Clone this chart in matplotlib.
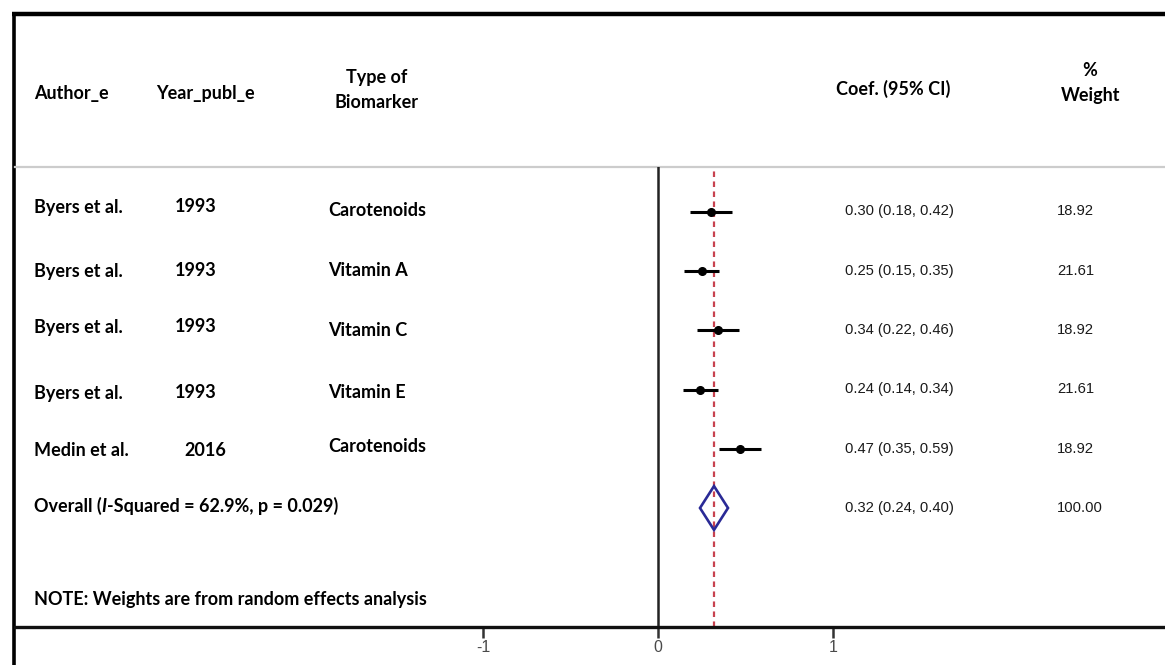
import matplotlib
matplotlib.use("Agg")
import matplotlib.pyplot as plt
from matplotlib.patches import Polygon

# ---------------- data ----------------
authors = ["Byers et al.", "Byers et al.", "Byers et al.", "Byers et al.", "Medin et al."]
years = ["1993", "1993", "1993", "1993", "2016"]
biomarkers = ["Carotenoids", "Vitamin A", "Vitamin C", "Vitamin E", "Carotenoids"]
coef = [0.30, 0.25, 0.34, 0.24, 0.47]
ci_low = [0.18, 0.15, 0.22, 0.14, 0.35]
ci_high = [0.42, 0.35, 0.46, 0.34, 0.59]
weights = ["18.92", "21.61", "18.92", "21.61", "18.92"]
overall_coef = 0.32
overall_low = 0.24
overall_high = 0.40
overall_weight = "100.00"
overall_label_parts = ["Overall (", "I", "-Squared = 62.9%, p = 0.029)"]
note = "NOTE: Weights are from random effects analysis"
xticks = [-1, 0, 1]
xticklabels = ["-1", "0", "1"]

W, H = 1165, 665
fig = plt.figure(figsize=(W / 100, H / 100), dpi=100)
fig.patch.set_facecolor("white")

# overlay axes in pixel coordinates for table text and frame
ax0 = fig.add_axes([0, 0, 1, 1])
ax0.set_xlim(0, W)
ax0.set_ylim(H, 0)
ax0.axis("off")

HF = "Lato"
HS = 13
NF = "Liberation Sans"
NS = 10.6
NC = "#1a1a1a"

# frame lines
ax0.plot([12, W], [14, 14], color="black", lw=3.2, solid_capstyle="butt")
ax0.plot([14, 14], [14, H], color="black", lw=2.6, solid_capstyle="butt")
ax0.plot([15, W], [167, 167], color="#cccccc", lw=1.6)

# headers
ax0.text(34, 93, "Author_e", fontfamily=HF, fontweight="bold", fontsize=HS, va="center", ha="left")
ax0.text(156, 93, "Year_publ_e", fontfamily=HF, fontweight="bold", fontsize=HS, va="center", ha="left")
ax0.text(377, 78, "Type of", fontfamily=HF, fontweight="bold", fontsize=HS, va="center", ha="center")
ax0.text(377, 102, "Biomarker", fontfamily=HF, fontweight="bold", fontsize=HS, va="center", ha="center")
ax0.text(836, 89, "Coef. (95% CI)", fontfamily=HF, fontweight="bold", fontsize=HS, va="center", ha="left")
ax0.text(1090, 70, "%", fontfamily=HF, fontweight="bold", fontsize=HS, va="center", ha="center")
ax0.text(1091, 95, "Weight", fontfamily=HF, fontweight="bold", fontsize=HS, va="center", ha="center")

# row text layout (pixel positions)
author_y = [207, 271, 327, 393, 450]
year_xy = [(175, 206), (175, 271), (175, 327), (175, 393), (184, 451)]
bio_y = [210, 271, 331, 392, 446]
num_y = [211, 271, 330, 389, 449]

for i in range(len(authors)):
    ax0.text(34, author_y[i], authors[i], fontfamily=HF, fontweight="bold", fontsize=HS, va="center")
    ax0.text(year_xy[i][0], year_xy[i][1], years[i], fontfamily=HF, fontweight="bold", fontsize=HS, va="center")
    ax0.text(328, bio_y[i], biomarkers[i], fontfamily=HF, fontweight="bold", fontsize=HS, va="center")
    ax0.text(845, num_y[i], f"{coef[i]:.2f} ({ci_low[i]:.2f}, {ci_high[i]:.2f})",
             fontfamily=NF, fontsize=NS, va="center", color=NC)
    ax0.text(1057, num_y[i], weights[i], fontfamily=NF, fontsize=NS, va="center", color=NC)

ax0.text(845, 508, f"{overall_coef:.2f} ({overall_low:.2f}, {overall_high:.2f})",
         fontfamily=NF, fontsize=NS, va="center", color=NC)
ax0.text(1057, 508, overall_weight, fontfamily=NF, fontsize=NS, va="center", color=NC)

# overall label built from pieces (bold italic I)
fig.canvas.draw()
renderer = fig.canvas.get_renderer()
x = 34
styles = ["normal", "italic", "normal"]
for part, st in zip(overall_label_parts, styles):
    t = ax0.text(x, 506, part, fontfamily=HF, fontweight="bold", fontstyle=st, fontsize=HS, va="center")
    bb = t.get_window_extent(renderer=renderer)
    x += bb.width * (W / fig.bbox.width)

ax0.text(34, 599, note, fontfamily=HF, fontweight="bold", fontsize=HS, va="center")

# ---------------- forest plot axes ----------------
x0_px, x1_px = 15, W
zero_px, unit_px = 658, 175
top_px, bot_px = 167, 627
row0_px, row_step = 212, 59.2

ax = fig.add_axes([x0_px / W, 1 - bot_px / H, (x1_px - x0_px) / W, (bot_px - top_px) / H])
ax.set_xlim((x0_px - zero_px) / unit_px, (x1_px - zero_px) / unit_px)
ax.set_ylim((bot_px - row0_px) / row_step, (top_px - row0_px) / row_step)
ax.patch.set_alpha(0)
for s in ["top", "right", "left"]:
    ax.spines[s].set_visible(False)
ax.spines["bottom"].set_linewidth(2.4)
ax.spines["bottom"].set_color("#111111")
ax.set_yticks([])
ax.set_xticks(xticks)
ax.set_xticklabels(xticklabels, fontfamily=NF, fontsize=11.5, color="#4a4a4a")
ax.tick_params(axis="x", length=8, width=1.8, color="#333333", pad=1)

# zero line
ax.axvline(0, color="#222222", lw=1.8)
# overall effect dashed line
ax.axvline(overall_coef, color="#c8424f", lw=1.6, ls=(0, (2.5, 2)), zorder=1)

rows = list(range(len(coef)))
ax.hlines(rows, ci_low, ci_high, color="black", lw=2.2, zorder=3)
ax.plot(coef, rows, "o", color="black", ms=5.5, zorder=4)

# diamond
yr = len(coef)
dh = 0.37
diamond = Polygon([(overall_low, yr), (overall_coef, yr - dh), (overall_high, yr), (overall_coef, yr + dh)],
                  closed=True, fill=False, edgecolor="#2a2a96", lw=1.9, zorder=5)
ax.add_patch(diamond)

fig.savefig("out.png", dpi=100, facecolor="white")
